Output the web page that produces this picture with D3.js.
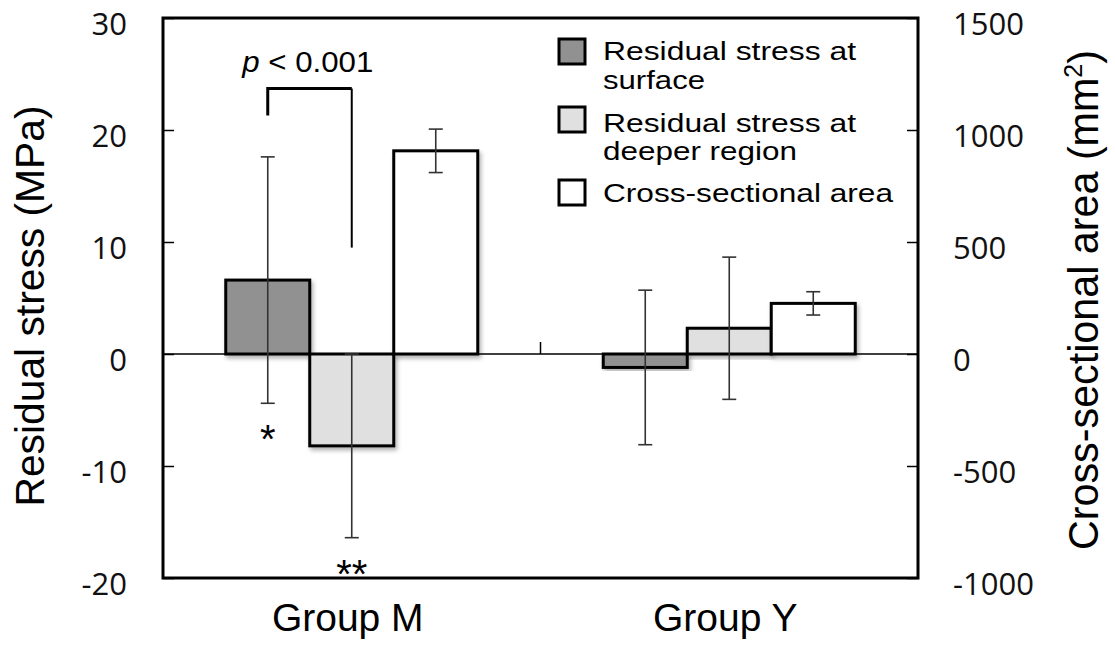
<!DOCTYPE html>
<html>
<head>
<meta charset="utf-8">
<script src="https://cdn.jsdelivr.net/npm/d3@7"></script>
<style>
  body { margin: 0; background: #fff; }
  svg { display: block; }
</style>
</head>
<body>
<svg id="chart" width="1115" height="648"></svg>
<script>
// ---- data ----
const groups = ['Group M', 'Group Y'];
const seriesNames = ['Residual stress at surface', 'Residual stress at deeper region', 'Cross-sectional area'];
const surfaceMean = [6.6, -1.2];
const surfaceSD = [11.0, 6.9];
const deeperMean = [-8.2, 2.3];
const deeperSD = [8.2, 6.35];
const areaMean = [907, 226];
const areaSD = [97, 52];
const leftTicks = [-20, -10, 0, 10, 20, 30];
const rightTicks = [-1000, -500, 0, 500, 1000, 1500];
const legendLines = [['Residual stress at', 'surface'], ['Residual stress at', 'deeper region'], ['Cross-sectional area']];
// significance bracket between surface and deeper bars of Group M (MPa)
const bracket = { group: 'Group M', left: 21.3, top: 23.7, right: 9.5, label: '< 0.001' };
const starMarks = [{ group: 'Group M', series: 0, text: '*' }, { group: 'Group M', series: 1, text: '**' }];

const svg = d3.select('#chart');
const plot = { left: 163, right: 918, top: 18, bottom: 578 };
const fills = ['#919191', '#e0e0e0', '#ffffff'];
const sansFont = '"Liberation Sans", Arial, sans-serif';
const tickFont = '"Open Sans", "Liberation Sans", sans-serif';

const x0 = d3.scaleBand().domain(groups).range([plot.left, plot.right]).padding(0);
const x1 = d3.scaleBand().domain(d3.range(3)).range([0, x0.bandwidth()])
  .paddingInner(0).paddingOuter(0.747);
const yL = d3.scaleLinear().domain([-20, 30]).range([plot.bottom, plot.top]);
const yR = d3.scaleLinear().domain([-1000, 1500]).range([plot.bottom, plot.top]);

// flatten into bar records
const bars = [];
groups.forEach((g, i) => {
  bars.push({ g, s: 0, v: surfaceMean[i], e: surfaceSD[i], y: yL });
  bars.push({ g, s: 1, v: deeperMean[i], e: deeperSD[i], y: yL });
  bars.push({ g, s: 2, v: areaMean[i], e: areaSD[i], y: yR });
});
const cx = d => x0(d.g) + x1(d.s) + x1.bandwidth() / 2;

const defs = svg.append('defs');
const shadow = defs.append('filter').attr('id', 'shadow')
  .attr('x', '-10%').attr('y', '-10%').attr('width', '130%').attr('height', '130%');
shadow.append('feDropShadow').attr('dx', 2).attr('dy', 3).attr('stdDeviation', 2)
  .attr('flood-color', '#000').attr('flood-opacity', 0.3);

// zero (category) line + tick between groups
svg.append('line')
  .attr('x1', plot.left).attr('x2', plot.right)
  .attr('y1', yL(0)).attr('y2', yL(0))
  .attr('stroke', '#000').attr('stroke-width', 1.5);
svg.selectAll('.cat-tick').data(groups.slice(1)).enter().append('line')
  .attr('class', 'cat-tick')
  .attr('x1', d => x0(d)).attr('x2', d => x0(d))
  .attr('y1', yL(0)).attr('y2', yL(0) - 12)
  .attr('stroke', '#000').attr('stroke-width', 1.5);

// bars
svg.append('g').selectAll('rect').data(bars).enter().append('rect')
  .attr('x', d => x0(d.g) + x1(d.s))
  .attr('width', x1.bandwidth())
  .attr('y', d => Math.min(d.y(d.v), d.y(0)))
  .attr('height', d => Math.abs(d.y(d.v) - d.y(0)))
  .attr('fill', d => fills[d.s])
  .attr('stroke', '#000')
  .attr('stroke-width', 3)
  .attr('filter', 'url(#shadow)');

// error bars
const err = svg.append('g').attr('stroke', '#333').attr('stroke-width', 1.6);
bars.forEach(d => {
  const hi = d.y(d.v + d.e), lo = d.y(d.v - d.e), c = cx(d);
  err.append('line').attr('x1', c).attr('x2', c).attr('y1', hi).attr('y2', lo);
  err.append('line').attr('x1', c - 7).attr('x2', c + 7).attr('y1', hi).attr('y2', hi);
  err.append('line').attr('x1', c - 7).attr('x2', c + 7).attr('y1', lo).attr('y2', lo);
});

// significance asterisks under the error bars
starMarks.forEach(m => {
  const d = bars.find(b => b.g === m.group && b.s === m.series);
  svg.append('text')
    .attr('x', cx(d)).attr('y', d.y(d.v - d.e) + 50)
    .attr('text-anchor', 'middle')
    .attr('font-family', sansFont).attr('font-size', 40)
    .text(m.text);
});

// p-value bracket
const bl = bars.find(b => b.g === bracket.group && b.s === 0);
const br = bars.find(b => b.g === bracket.group && b.s === 1);
svg.append('path')
  .attr('d', `M${cx(bl)},${yL(bracket.left)}V${yL(bracket.top)}H${cx(br)}`)
  .attr('fill', 'none').attr('stroke', '#000').attr('stroke-width', 3);
svg.append('line')
  .attr('x1', cx(br)).attr('x2', cx(br))
  .attr('y1', yL(bracket.top)).attr('y2', yL(bracket.right))
  .attr('stroke', '#000').attr('stroke-width', 2);
const pTxt = svg.append('text')
  .attr('x', (cx(bl) + cx(br)) / 2 - 2).attr('y', yL(bracket.top) - 17)
  .attr('text-anchor', 'middle')
  .attr('font-family', sansFont).attr('font-size', 29)
  .attr('textLength', 131).attr('lengthAdjust', 'spacingAndGlyphs');
pTxt.append('tspan').attr('font-style', 'italic').text('p');
pTxt.append('tspan').text(' ' + bracket.label);

// axes (ticks point inward), plain integer labels with hyphen minus
const plain = d => String(d);
const leftAxis = d3.axisLeft(yL).tickValues(leftTicks).tickFormat(plain)
  .tickSizeInner(-11).tickSizeOuter(0).tickPadding(36);
const rightAxis = d3.axisRight(yR).tickValues(rightTicks).tickFormat(plain)
  .tickSizeInner(-11).tickSizeOuter(0).tickPadding(35);
const styleAxis = g => {
  g.select('.domain').remove();
  g.selectAll('.tick line').attr('stroke', '#000').attr('stroke-width', 1.5);
  g.selectAll('.tick text')
    .attr('dy', '0.52em')
    .attr('fill', '#111')
    .style('font-family', tickFont)
    .style('font-size', '31px');
};
svg.append('g').attr('transform', `translate(${plot.left},0)`).call(leftAxis).call(styleAxis);
svg.append('g').attr('transform', `translate(${plot.right},0)`).call(rightAxis).call(styleAxis);

// frame
svg.append('rect')
  .attr('x', plot.left).attr('y', plot.top)
  .attr('width', plot.right - plot.left).attr('height', plot.bottom - plot.top)
  .attr('fill', 'none').attr('stroke', '#000').attr('stroke-width', 3);

// category labels
svg.selectAll('.cat-label').data(groups).enter().append('text')
  .attr('class', 'cat-label')
  .attr('x', d => x0(d) + x0.bandwidth() / 2 - 4)
  .attr('y', 631)
  .attr('text-anchor', 'middle')
  .attr('font-family', sansFont).attr('font-size', 39)
  .text(d => d);

// axis titles
svg.append('text')
  .attr('transform', 'rotate(-90)')
  .attr('x', -306).attr('y', 44)
  .attr('text-anchor', 'middle')
  .attr('font-family', sansFont).attr('font-size', 40)
  .attr('textLength', 401).attr('lengthAdjust', 'spacingAndGlyphs')
  .text('Residual stress (MPa)');
const rTitle = svg.append('text')
  .attr('transform', 'rotate(-90)')
  .attr('x', -300).attr('y', 1098)
  .attr('text-anchor', 'middle')
  .attr('font-family', sansFont).attr('font-size', 43)
  .attr('textLength', 500).attr('lengthAdjust', 'spacingAndGlyphs');
rTitle.append('tspan').text('Cross-sectional area (mm');
rTitle.append('tspan').attr('font-size', 26).attr('dy', -16).text('2');
rTitle.append('tspan').attr('dy', 16).text(')');

// legend
const legTop = [38, 106, 179];
const legBase = [[60, 89], [131.5, 160], [202]];
const legWidths = [[253, 102], [253, 194], [290]];
const leg = svg.append('g');
seriesNames.forEach((name, i) => {
  leg.append('rect')
    .attr('x', 559).attr('y', legTop[i] + 1)
    .attr('width', 26).attr('height', 25)
    .attr('fill', fills[i]).attr('stroke', '#000').attr('stroke-width', 3);
  legendLines[i].forEach((line, j) => {
    leg.append('text')
      .attr('x', 603).attr('y', legBase[i][j])
      .attr('font-family', sansFont).attr('font-size', 25)
      .attr('textLength', legWidths[i][j]).attr('lengthAdjust', 'spacingAndGlyphs')
      .text(line);
  });
});
</script>
</body>
</html>
